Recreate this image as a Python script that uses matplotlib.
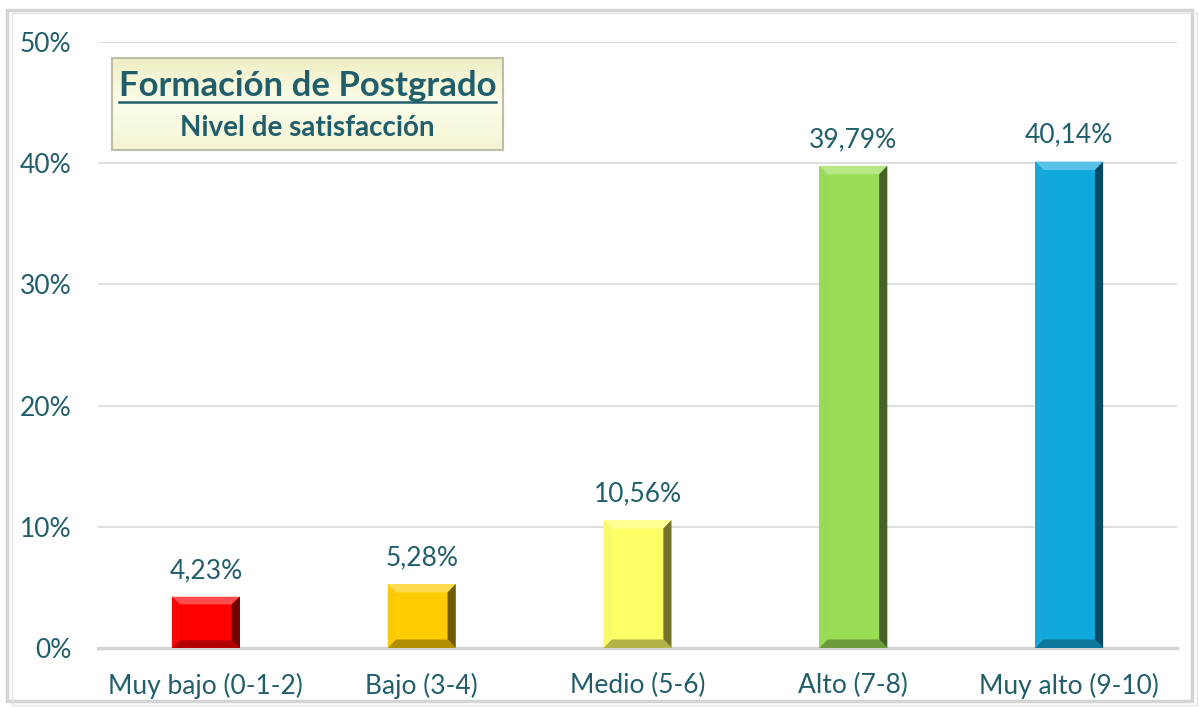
import matplotlib
matplotlib.use("Agg")
import matplotlib.pyplot as plt
from matplotlib.patches import Polygon, Rectangle
import matplotlib.colors as mcolors
import numpy as np

categories = ["Muy bajo (0-1-2)", "Bajo (3-4)", "Medio (5-6)", "Alto (7-8)", "Muy alto (9-10)"]
values = [4.23, 5.28, 10.56, 39.79, 40.14]
labels = ["4,23%", "5,28%", "10,56%", "39,79%", "40,14%"]
colors = ["#FF0000", "#FFCC00", "#FFFF66", "#99DD55", "#11A8DC"]
yticks = [0, 10, 20, 30, 40, 50]
ytick_labels = ["0%", "10%", "20%", "30%", "40%", "50%"]
title1 = "Formación de Postgrado"
title2 = "Nivel de satisfacción"

TEXT = "#215E6B"
plt.rcParams["font.family"] = ["Lato", "DejaVu Sans"]

fig = plt.figure(figsize=(11.99, 7.07), dpi=100)
# outer frame
fig.patches.append(Rectangle((0.006, 0.008), 0.988, 0.978, transform=fig.transFigure,
                             fill=False, edgecolor="#D4D4D4", linewidth=2.5))
fig.patches.append(Rectangle((0.010, 0.003), 0.988, 0.978, transform=fig.transFigure,
                             fill=False, edgecolor="#E4E4E4", linewidth=1.0))

ax = fig.add_axes([0.0817, 0.0835, 0.9, 0.857])
x = np.arange(len(categories))
bw = 0.315
bars = ax.bar(x, values, width=bw, color=colors, zorder=3)

# bevel effect
for b, c in zip(bars, colors):
    x0, y0, w, h = b.get_x(), b.get_y(), b.get_width(), b.get_height()
    rgb = np.array(mcolors.to_rgb(c))
    dx = w * 0.12
    dy = min(h * 0.15, 0.7)
    light = np.clip(rgb + (1 - rgb) * 0.3, 0, 1)
    dark = rgb * 0.45
    mid_dark = rgb * 0.7
    ax.add_patch(Polygon([(x0, y0 + h), (x0 + w, y0 + h), (x0 + w - dx, y0 + h - dy), (x0 + dx, y0 + h - dy)],
                         closed=True, facecolor=light, edgecolor="none", zorder=4))
    ax.add_patch(Polygon([(x0 + w, y0), (x0 + w, y0 + h), (x0 + w - dx, y0 + h - dy), (x0 + w - dx, y0 + dy)],
                         closed=True, facecolor=dark, edgecolor="none", zorder=4))
    ax.add_patch(Polygon([(x0, y0), (x0 + w, y0), (x0 + w - dx, y0 + dy), (x0 + dx, y0 + dy)],
                         closed=True, facecolor=mid_dark, edgecolor="none", zorder=4))
    ax.add_patch(Polygon([(x0, y0), (x0, y0 + h), (x0 + dx, y0 + h - dy), (x0 + dx, y0 + dy)],
                         closed=True, facecolor=np.clip(rgb * 0.95 + 0.03, 0, 1), edgecolor="none", zorder=4))

for xi, v, lab in zip(x, values, labels):
    ax.annotate(lab, (xi, v), xytext=(0, 10), textcoords="offset points",
                ha="center", va="bottom", fontsize=19, color=TEXT, zorder=5)

ax.set_xlim(-0.5, len(categories) - 0.5)
ax.set_ylim(0, 50)
ax.set_yticks(yticks)
ax.set_yticklabels(ytick_labels)
ax.set_xticks(x)
ax.set_xticklabels(categories)
ax.tick_params(axis="both", length=0, labelsize=19, labelcolor=TEXT)
ax.tick_params(axis="y", pad=19)
ax.tick_params(axis="x", pad=18)
ax.grid(axis="y", color="#D9D9D9", linewidth=1.2, zorder=0)
for s in ["top", "right", "left"]:
    ax.spines[s].set_visible(False)
ax.spines["bottom"].set_color("#D4D4D4")
ax.spines["bottom"].set_linewidth(2.5)
ax.spines["bottom"].set_zorder(2)

# title box
bx, by, bw2, bh = 0.0935, 0.788, 0.326, 0.130
grad = np.linspace(0, 1, 100).reshape(-1, 1)
cmap = mcolors.LinearSegmentedColormap.from_list("cream", ["#EFEFC4", "#FDFDEB", "#F4F4D2"])
img_ax = fig.add_axes([bx, by, bw2, bh])
img_ax.imshow(grad, aspect="auto", cmap=cmap, extent=[0, 1, 0, 1])
img_ax.set_xlim(0, 1)
img_ax.set_ylim(0, 1)
img_ax.set_xticks([])
img_ax.set_yticks([])
for s in img_ax.spines.values():
    s.set_color("#BDBDA8")
    s.set_linewidth(1.5)
t1 = img_ax.text(0.5, 0.69, title1, ha="center", va="center", fontsize=25, fontweight="bold",
                 color=TEXT, transform=img_ax.transAxes)
img_ax.text(0.5, 0.24, title2, ha="center", va="center", fontsize=20, fontweight="bold",
            color=TEXT, transform=img_ax.transAxes)
renderer = fig.canvas.get_renderer()
bb = t1.get_window_extent(renderer).transformed(img_ax.transAxes.inverted())
img_ax.plot([bb.x0, bb.x1], [0.52, 0.52], color=TEXT, linewidth=1.8, transform=img_ax.transAxes)

fig.savefig("out.png", dpi=100)
